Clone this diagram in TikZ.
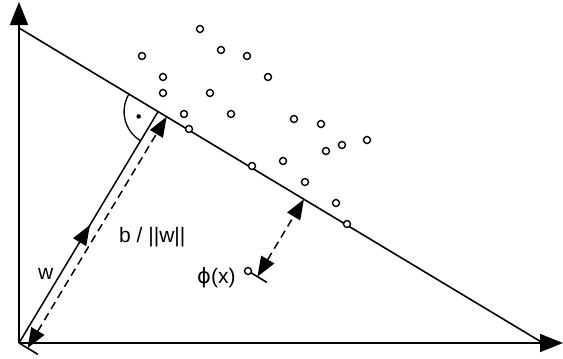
\documentclass[tikz,border=0pt]{standalone}
\usepackage{fontspec}
\setmainfont{Liberation Sans}
\newfontfamily\symfont{DejaVu Sans}
\usepackage{tikz}
\usetikzlibrary{arrows.meta,calc,decorations.markings}
\tikzset{
  axisArrow/.style={-{Triangle[length=23pt,width=18pt]}, line width=1.8pt},
  planeLine/.style={line width=1.6pt},
  distArrow/.style={{Triangle[length=20pt,width=15pt]}-{Triangle[length=20pt,width=15pt]}, line width=1.5pt, dash pattern=on 8pt off 5pt},
  wArrow/.style={line width=1.5pt, postaction={decorate},
    decoration={markings, mark=at position 0.51 with {\arrow{Triangle[length=20pt,width=15pt]}}}},
  dataPt/.style={circle, draw, fill=white, line width=1.4pt, minimum size=7pt, inner sep=0pt},
  dotMark/.style={circle, fill, minimum size=4.5pt, inner sep=0pt},
  lblText/.style={font=\fontsize{21}{25}\selectfont, inner sep=0pt}
}

\begin{document}
\begin{tikzpicture}[x=1pt,y=-1pt]
  \useasboundingbox (0,0) rectangle (563,359);
  % axes and hyperplane
  \coordinate (O) at (19,343);
  \coordinate (ytip) at (19,2);
  \coordinate (xtip) at (563,343);
  \coordinate (A) at (19,28);
  \coordinate (B) at (543,343);
  \draw[axisArrow] (O) -- (ytip);
  \draw[axisArrow] (O) -- (xtip);
  \draw[planeLine] (A) -- (B);
  % w and the offset b/||w||
  \coordinate (F) at ($(A)!(O)!(B)$);
  \coordinate (Odir) at ($(O)+(B)-(A)$);
  \coordinate (Otick) at ($(O)!22pt!(Odir)$);
  \coordinate (O2) at ($(O)!10pt!(Odir)$);
  \coordinate (F2) at ($(A)!(O2)!(B)$);
  \draw[wArrow] (O) -- (F);
  \draw[planeLine] (O) -- (Otick);
  \draw[distArrow] (O2) -- (F2);
  % right angle
  \draw[line width=1.3pt] ($(F)!34pt!(A)$) arc[start angle=211, end angle=121, radius=34];
  \node[dotMark] (rdot) at ($(F)+(166:20)$) {};
  % data points
  \foreach \px/\py [count=\i] in {200/29,221/50,247/56,142/56,163/77,163/93,210/93,268/77,
      184/114,231/114,189/129,294/119,321/124,367/140,342/145,326/151,283/161,252/166,
      305/182,336/203,347/224}
    \node[dataPt] (p\i) at (\px,\py) {};
  % phi(x) and its distance
  \coordinate (P) at (248,271);
  \coordinate (Pdir) at ($(P)+(B)-(A)$);
  \coordinate (Ptick) at ($(P)!22pt!(Pdir)$);
  \coordinate (Q) at ($(P)!11pt!(Pdir)$);
  \coordinate (Q2) at ($(A)!(Q)!(B)$);
  \draw[planeLine] (P) -- (Ptick);
  \draw[distArrow] (Q) -- (Q2);
  \node[dataPt] (phi) at (P) {};
  % labels
  \node[lblText, anchor=base west] (wlbl) at (38,279) {w};
  \node[lblText, anchor=base west] (blbl) at (119,242) {b / ||w||};
  \node[lblText, anchor=base west] (philbl) at (197,283) {{\symfont ϕ}(x)};
\end{tikzpicture}
\end{document}
